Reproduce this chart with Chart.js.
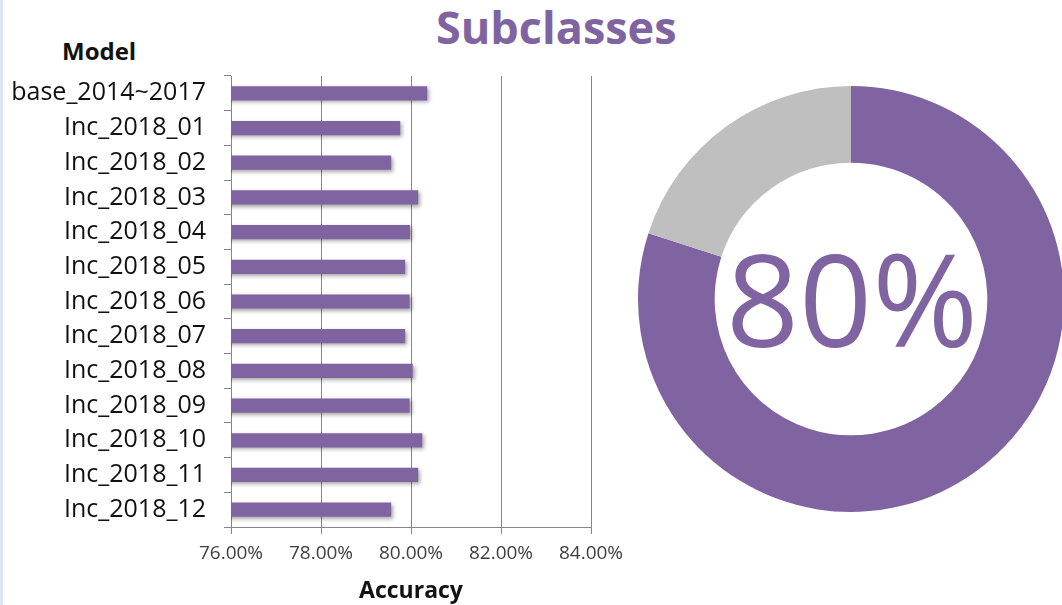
<!DOCTYPE html>
<html>
<head>
<meta charset="utf-8">
<script src="https://cdn.jsdelivr.net/npm/chart.js@4"></script>
<style>
  body { margin: 0; width: 1062px; height: 605px; overflow: hidden; background: #fff; position: relative; font-family: "Open Sans", sans-serif; }
  .edge { position: absolute; left: 0; top: 0; width: 3px; height: 605px; background: #dce6f2; }
  #barBox { position: absolute; left: 0; top: 0; width: 640px; height: 605px; }
  #donutBox { position: absolute; left: 638px; top: 86px; width: 426px; height: 426px; }
  .title { position: absolute; left: 436px; top: -4px; font-size: 45px; font-weight: bold; color: #8064a2; }
  .ytitle { position: absolute; left: 62px; top: 34px; font-size: 24px; font-weight: bold; color: #111; }
</style>
</head>
<body>
<div class="edge"></div>
<div class="title">Subclasses</div>
<div class="ytitle">Model</div>
<div id="barBox"><canvas id="barChart"></canvas></div>
<div id="donutBox"><canvas id="donutChart"></canvas></div>
<script>
// data
const models = ['base_2014~2017', 'Inc_2018_01', 'Inc_2018_02', 'Inc_2018_03', 'Inc_2018_04', 'Inc_2018_05',
  'Inc_2018_06', 'Inc_2018_07', 'Inc_2018_08', 'Inc_2018_09', 'Inc_2018_10', 'Inc_2018_11', 'Inc_2018_12'];
const accuracy = [80.36, 79.76, 79.56, 80.16, 79.98, 79.87, 79.97, 79.87, 80.04, 79.97, 80.25, 80.16, 79.56];
const xTicks = [76, 78, 80, 82, 84];
const overall = [80, 20];
const overallLabel = '80%';

const purple = '#8064a2';
const gray = '#bfbfbf';

// soft drop shadow under bars
const barShadow = {
  id: 'barShadow',
  beforeDatasetDraw(chart) {
    const c = chart.ctx;
    c.save();
    c.shadowColor = 'rgba(0,0,0,0.35)';
    c.shadowBlur = 4;
    c.shadowOffsetX = 2;
    c.shadowOffsetY = 2;
  },
  afterDatasetDraw(chart) {
    chart.ctx.restore();
  }
};

new Chart(document.getElementById('barChart'), {
  type: 'bar',
  data: {
    labels: models,
    datasets: [{
      label: 'Accuracy',
      data: accuracy,
      backgroundColor: purple,
      categoryPercentage: 1,
      barPercentage: 0.41
    }]
  },
  options: {
    indexAxis: 'y',
    responsive: true,
    maintainAspectRatio: false,
    animation: false,
    layout: { padding: { top: 76, right: 49, bottom: 0, left: 0 } },
    plugins: { legend: { display: false }, tooltip: { enabled: false } },
    scales: {
      x: {
        min: 76,
        max: 84,
        afterBuildTicks(scale) { scale.ticks = xTicks.map(v => ({ value: v })); },
        afterFit(scale) { scale.height = 78; },
        grid: { color: '#868686', tickLength: 7, drawTicks: true },
        border: { color: '#868686' },
        ticks: {
          padding: 8,
          color: '#404040',
          font: { family: 'Open Sans', size: 19 },
          callback: v => v.toFixed(2) + '%'
        },
        title: {
          display: true,
          text: 'Accuracy',
          color: '#111',
          padding: { top: 4, bottom: 0 },
          font: { family: 'Open Sans', size: 23, weight: 'bold' }
        }
      },
      y: {
        afterFit(scale) { scale.width = 231; },
        grid: { offset: true, drawOnChartArea: false, color: '#868686', tickLength: 7 },
        border: { color: '#868686' },
        ticks: {
          padding: 18,
          color: '#111',
          font: { family: 'Open Sans', size: 25 }
        }
      }
    }
  },
  plugins: [barShadow]
});

// big label in the donut hole
const centerText = {
  id: 'centerText',
  afterDraw(chart) {
    const c = chart.ctx;
    const arc = chart.getDatasetMeta(0).data[0];
    c.save();
    c.fillStyle = purple;
    c.font = '128px "Open Sans"';
    c.textAlign = 'center';
    c.textBaseline = 'middle';
    c.fillText(overallLabel, arc.x + 1, arc.y + 12);
    c.restore();
  }
};

new Chart(document.getElementById('donutChart'), {
  type: 'doughnut',
  data: {
    labels: ['Accuracy', 'Rest'],
    datasets: [{
      data: overall,
      backgroundColor: [purple, gray],
      borderWidth: 0
    }]
  },
  options: {
    responsive: true,
    maintainAspectRatio: false,
    animation: false,
    cutout: '64%',
    plugins: { legend: { display: false }, tooltip: { enabled: false } }
  },
  plugins: [centerText]
});
</script>
</body>
</html>
